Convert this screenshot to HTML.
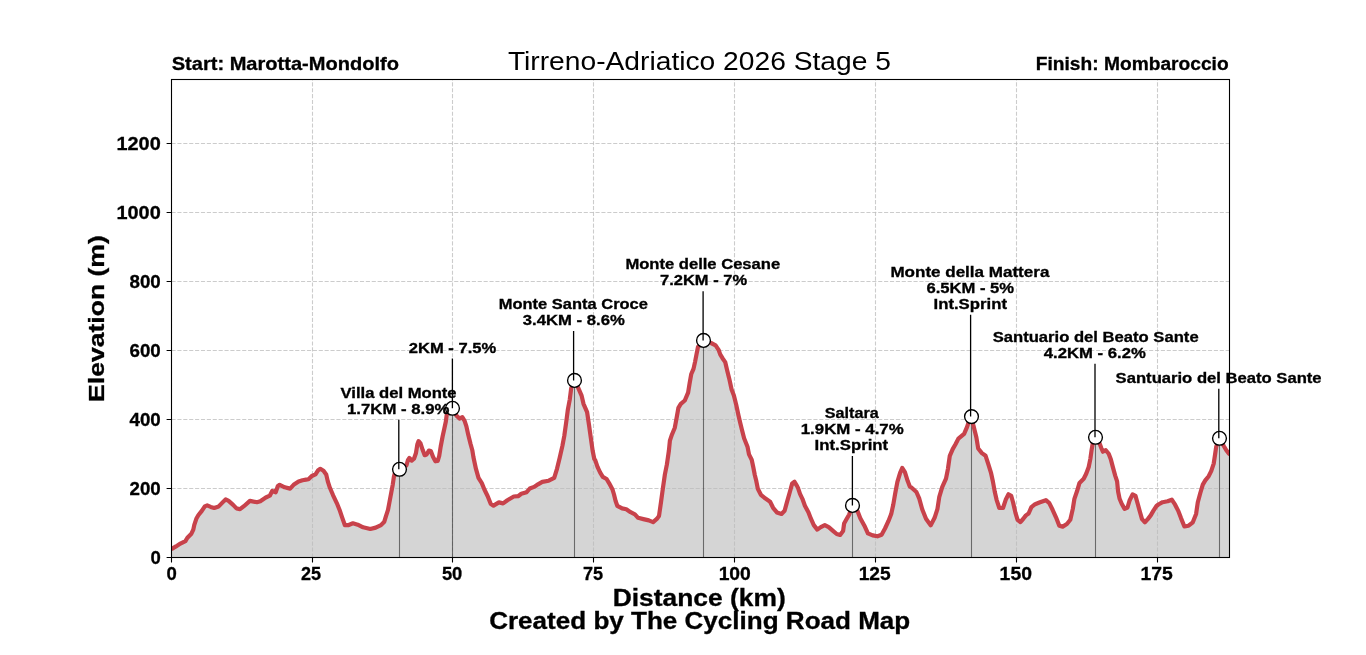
<!DOCTYPE html>
<html><head><meta charset="utf-8"><title>Tirreno-Adriatico 2026 Stage 5</title><style>html,body{margin:0;padding:0;background:#fff;overflow:hidden}svg{display:block;will-change:transform;font-family:"Liberation Sans",sans-serif}</style></head><body>
<svg width="1366" height="655" viewBox="0 0 1366 655">
<rect width="1366" height="655" fill="#fff"/>
<defs><clipPath id="ax"><rect x="171.5" y="79.5" width="1058" height="478"/></clipPath></defs>
<g clip-path="url(#ax)">
<polygon points="171.5,557.5 171.5,548.7 172.2,548.6 176,546.4 180.4,543.6 185.4,541.1 187.4,537.7 191.4,533.7 193.3,529.7 194.3,524.8 196.3,518.8 198.3,515.3 201.8,510.9 204.8,506.4 207.2,505.4 210.7,506.9 214.2,507.9 218.7,506.4 222.6,502.4 225.6,499.4 228.6,500.9 233.1,504.9 236.5,508.4 240,509.2 243.9,506.2 249.9,500.9 256.9,502.2 260.3,501.2 265.8,497.5 269.8,495.7 272.2,491 275.7,492.3 277.7,486.3 279.7,484.8 284.7,487.3 290.1,488.6 293.6,484.8 298.6,481.4 302.5,480.2 306,479.6 308.5,479.2 311.8,476 315.5,474.4 318.2,470.2 320.3,468.8 323.5,470.7 326.2,474.4 327.8,481.4 329.9,487.8 333.1,495.3 336.9,503.3 339.5,509.7 342.2,517.7 344.9,525.2 348.1,525.2 352.9,523.3 357.7,524.7 363.1,527.3 367.3,528.2 370.3,529 375.7,527.6 381,525.1 384.3,521.7 385.9,516.3 388,509.9 389.6,501.4 391.2,492.8 392.8,484.3 393.9,476.8 395,472.5 399.5,469.3 403,467 406.4,465.5 407.9,460.2 409.4,457.9 411.7,460.6 414,458.7 415.9,453.3 417.4,444.2 418.6,441.1 420.5,443.4 422.8,450.3 424.7,455.2 426.6,454.5 428.9,450.6 430.8,451 433.1,457.1 435.4,461.3 437.7,460.9 439.2,456 440.7,446.5 442.6,436.5 444.4,428.2 445.8,421.8 446.7,414.9 448.5,410 452.5,408 456.3,415.4 459.5,418.6 462.3,417.2 464.6,420.9 466.4,426.4 468.2,434.6 470.5,443.8 472.3,450.2 473.4,457 475.9,468.7 478.5,477.8 481.8,483.1 484.4,489.5 487.6,496 490.8,504 493.5,505.6 498.9,502.4 503.1,503.4 507.4,500.2 513.8,496.5 518.1,496.2 521.3,493.8 526.6,492.2 529.8,488.5 534.1,486.9 538,484.3 542.3,481.9 548.7,480.7 554.2,477.9 557,468.8 559.7,457.8 562.4,445.9 564.3,435.9 566.1,423 567.9,409.3 569.8,399.3 571.2,388.3 574.5,380.4 578,387.4 581.6,395.6 583.5,403.8 587.1,412.1 589,424.9 590.8,437.7 592.6,450.5 594.3,459 595.3,460.3 597.5,466.8 600.2,472.6 602.8,476.9 606.6,479 609.2,483.3 612.4,489.2 614,494.5 615.6,501 617.3,505.8 622.1,508.4 626.3,509.3 630.6,512.2 634.9,514.3 638.1,517.8 643.4,519.1 648.8,520.4 653.1,522.1 656.8,518.9 659,516 661,502.1 662.9,488.3 664.9,474.4 666.9,464.4 668.9,450.6 669.9,440.6 671.9,434.7 674.8,427.7 676.8,416.8 678.4,407.9 680.8,403.9 684.8,400.5 688.1,392.6 689.6,383.4 691.2,374.3 693.5,368.9 695,362.1 696.5,354.4 698,346.8 703.5,340.4 711,343 715.6,345.3 718.6,349.8 720.2,354.4 722.5,358.2 725.2,362.1 727,369.7 729.3,378.9 731.6,389.5 733.9,395.6 736.2,404.8 738.5,415.5 740.5,424 741.8,429.2 744.1,438.3 747.5,446.7 749,454.4 751.7,459.7 753.3,467.3 754.8,475 756.3,481.1 757.8,488.7 760.9,494.8 765.5,498.6 770.1,501.7 773.1,507.8 776.9,512.4 781.5,513.9 784.6,510.8 786.9,502.4 789.9,491.8 792.2,483.4 794.5,481.8 796.8,485.6 798,487.9 800,493.8 802.4,498.8 804.9,505.8 808.4,512.2 810.9,518.7 813.8,525.1 817.3,529.6 820.8,527.1 824.8,525.1 828.7,527.1 832.7,530.6 836.7,534 840.1,535 843.1,531 844.1,523.6 846.6,519.1 849.1,514.7 852.5,505.4 855.5,508.5 857.6,511.3 860.3,518.2 864.4,525.7 867.9,533.3 872.7,535.4 877.5,536.3 881.6,534.7 885,528.5 888.5,520.9 891.2,514.1 893.3,504.5 895.3,492.8 897.4,481.8 900.1,472.9 902.2,468 904.9,472.2 907.7,481.1 909.8,486.5 911.7,487.8 916.4,492 919.3,498.7 922.2,509.2 926,518.7 930.7,525.4 934.6,517.8 937.4,509.2 939.3,496.8 942.2,487.2 946,478.7 947.9,469.1 949.8,455.8 952.7,449.1 955.5,444.3 958.4,438.6 964.1,433.8 967,427.2 968.9,421.4 971.5,416.6 973.2,424.5 974.6,430.2 976.4,437.5 978.2,448.5 981.9,453.1 985.6,455.8 988.3,464.1 991.1,473.2 992.9,481.5 994.7,491.5 996.6,499.8 999.3,508 1003,508 1005.7,499.8 1008.5,494.3 1011.2,495.8 1013.1,502.5 1015.4,512.6 1017.6,519.9 1020.4,522.1 1023.1,519 1025.9,515.4 1028.6,513.5 1031.4,507.1 1035.1,504.2 1040,502.3 1045.9,500.2 1049.3,503.1 1052.6,509.8 1056,517.3 1059.3,525.7 1062.7,526.6 1066.9,524 1070.3,519.8 1072.8,508.9 1074.4,498.9 1077,491.3 1079.5,482.9 1083.7,478.7 1086.2,473.7 1088.7,467 1090.4,458.6 1091.7,449.3 1092.9,442.6 1095.5,437.3 1099.6,443.5 1101.5,448.5 1102.9,451.7 1105.8,450.2 1108.7,453.8 1110.9,459.6 1113,467.6 1115.2,475.6 1117.1,481.4 1118.1,491.5 1119.6,498.8 1121.7,503.8 1124.6,508.9 1127.5,507.5 1129.7,500.2 1132.6,494.4 1135.5,495.9 1137.7,503.8 1139.9,511.8 1142,519.1 1144.9,522.2 1147.8,519.1 1150.7,515.4 1153.6,510.4 1156.5,506 1158.4,504.5 1162.6,502.2 1167.6,501.3 1171.8,499.7 1175.1,504.7 1178.5,511.4 1181,518.1 1184.4,526.5 1188.6,525.7 1192.8,522.3 1196.1,513.9 1197.8,502.2 1200.3,493 1202.8,484.6 1205.3,480.4 1208.7,476.2 1211.2,471.1 1213.7,463.6 1215.1,454.4 1216.2,446.8 1219.5,438.3 1223.8,446 1226.3,450.2 1228.8,453.5 1231,455 1229.5,557.5" fill="#d5d5d5"/>
<path d="M171.5 557.5H1229.5M171.5 488.5H1229.5M171.5 419.5H1229.5M171.5 350.5H1229.5M171.5 281.5H1229.5M171.5 212.5H1229.5M171.5 143.5H1229.5" stroke="#bbb" stroke-opacity="0.75" stroke-width="1.1" stroke-dasharray="4.111 1.778" fill="none"/>
<path d="M171.5 557.5V79.5M312.5 557.5V79.5M452.5 557.5V79.5M593.5 557.5V79.5M734.5 557.5V79.5M875.5 557.5V79.5M1016.5 557.5V79.5M1157.5 557.5V79.5" stroke="#bbb" stroke-opacity="0.75" stroke-width="1.1" stroke-dasharray="4.111 1.778" fill="none"/>
<path d="M399.5 469.3V557.5M452.5 408.3V557.5M574.5 380.4V557.5M703.5 340.4V557.5M852.5 505.4V557.5M971.5 416.6V557.5M1095.5 437.3V557.5M1219.5 438.3V557.5" stroke="#000" stroke-opacity="0.5" stroke-width="1.1" fill="none"/>
<polyline points="171.5,548.7 172.2,548.6 176,546.4 180.4,543.6 185.4,541.1 187.4,537.7 191.4,533.7 193.3,529.7 194.3,524.8 196.3,518.8 198.3,515.3 201.8,510.9 204.8,506.4 207.2,505.4 210.7,506.9 214.2,507.9 218.7,506.4 222.6,502.4 225.6,499.4 228.6,500.9 233.1,504.9 236.5,508.4 240,509.2 243.9,506.2 249.9,500.9 256.9,502.2 260.3,501.2 265.8,497.5 269.8,495.7 272.2,491 275.7,492.3 277.7,486.3 279.7,484.8 284.7,487.3 290.1,488.6 293.6,484.8 298.6,481.4 302.5,480.2 306,479.6 308.5,479.2 311.8,476 315.5,474.4 318.2,470.2 320.3,468.8 323.5,470.7 326.2,474.4 327.8,481.4 329.9,487.8 333.1,495.3 336.9,503.3 339.5,509.7 342.2,517.7 344.9,525.2 348.1,525.2 352.9,523.3 357.7,524.7 363.1,527.3 367.3,528.2 370.3,529 375.7,527.6 381,525.1 384.3,521.7 385.9,516.3 388,509.9 389.6,501.4 391.2,492.8 392.8,484.3 393.9,476.8 395,472.5 399.5,469.3 403,467 406.4,465.5 407.9,460.2 409.4,457.9 411.7,460.6 414,458.7 415.9,453.3 417.4,444.2 418.6,441.1 420.5,443.4 422.8,450.3 424.7,455.2 426.6,454.5 428.9,450.6 430.8,451 433.1,457.1 435.4,461.3 437.7,460.9 439.2,456 440.7,446.5 442.6,436.5 444.4,428.2 445.8,421.8 446.7,414.9 448.5,410 452.5,408 456.3,415.4 459.5,418.6 462.3,417.2 464.6,420.9 466.4,426.4 468.2,434.6 470.5,443.8 472.3,450.2 473.4,457 475.9,468.7 478.5,477.8 481.8,483.1 484.4,489.5 487.6,496 490.8,504 493.5,505.6 498.9,502.4 503.1,503.4 507.4,500.2 513.8,496.5 518.1,496.2 521.3,493.8 526.6,492.2 529.8,488.5 534.1,486.9 538,484.3 542.3,481.9 548.7,480.7 554.2,477.9 557,468.8 559.7,457.8 562.4,445.9 564.3,435.9 566.1,423 567.9,409.3 569.8,399.3 571.2,388.3 574.5,380.4 578,387.4 581.6,395.6 583.5,403.8 587.1,412.1 589,424.9 590.8,437.7 592.6,450.5 594.3,459 595.3,460.3 597.5,466.8 600.2,472.6 602.8,476.9 606.6,479 609.2,483.3 612.4,489.2 614,494.5 615.6,501 617.3,505.8 622.1,508.4 626.3,509.3 630.6,512.2 634.9,514.3 638.1,517.8 643.4,519.1 648.8,520.4 653.1,522.1 656.8,518.9 659,516 661,502.1 662.9,488.3 664.9,474.4 666.9,464.4 668.9,450.6 669.9,440.6 671.9,434.7 674.8,427.7 676.8,416.8 678.4,407.9 680.8,403.9 684.8,400.5 688.1,392.6 689.6,383.4 691.2,374.3 693.5,368.9 695,362.1 696.5,354.4 698,346.8 703.5,340.4 711,343 715.6,345.3 718.6,349.8 720.2,354.4 722.5,358.2 725.2,362.1 727,369.7 729.3,378.9 731.6,389.5 733.9,395.6 736.2,404.8 738.5,415.5 740.5,424 741.8,429.2 744.1,438.3 747.5,446.7 749,454.4 751.7,459.7 753.3,467.3 754.8,475 756.3,481.1 757.8,488.7 760.9,494.8 765.5,498.6 770.1,501.7 773.1,507.8 776.9,512.4 781.5,513.9 784.6,510.8 786.9,502.4 789.9,491.8 792.2,483.4 794.5,481.8 796.8,485.6 798,487.9 800,493.8 802.4,498.8 804.9,505.8 808.4,512.2 810.9,518.7 813.8,525.1 817.3,529.6 820.8,527.1 824.8,525.1 828.7,527.1 832.7,530.6 836.7,534 840.1,535 843.1,531 844.1,523.6 846.6,519.1 849.1,514.7 852.5,505.4 855.5,508.5 857.6,511.3 860.3,518.2 864.4,525.7 867.9,533.3 872.7,535.4 877.5,536.3 881.6,534.7 885,528.5 888.5,520.9 891.2,514.1 893.3,504.5 895.3,492.8 897.4,481.8 900.1,472.9 902.2,468 904.9,472.2 907.7,481.1 909.8,486.5 911.7,487.8 916.4,492 919.3,498.7 922.2,509.2 926,518.7 930.7,525.4 934.6,517.8 937.4,509.2 939.3,496.8 942.2,487.2 946,478.7 947.9,469.1 949.8,455.8 952.7,449.1 955.5,444.3 958.4,438.6 964.1,433.8 967,427.2 968.9,421.4 971.5,416.6 973.2,424.5 974.6,430.2 976.4,437.5 978.2,448.5 981.9,453.1 985.6,455.8 988.3,464.1 991.1,473.2 992.9,481.5 994.7,491.5 996.6,499.8 999.3,508 1003,508 1005.7,499.8 1008.5,494.3 1011.2,495.8 1013.1,502.5 1015.4,512.6 1017.6,519.9 1020.4,522.1 1023.1,519 1025.9,515.4 1028.6,513.5 1031.4,507.1 1035.1,504.2 1040,502.3 1045.9,500.2 1049.3,503.1 1052.6,509.8 1056,517.3 1059.3,525.7 1062.7,526.6 1066.9,524 1070.3,519.8 1072.8,508.9 1074.4,498.9 1077,491.3 1079.5,482.9 1083.7,478.7 1086.2,473.7 1088.7,467 1090.4,458.6 1091.7,449.3 1092.9,442.6 1095.5,437.3 1099.6,443.5 1101.5,448.5 1102.9,451.7 1105.8,450.2 1108.7,453.8 1110.9,459.6 1113,467.6 1115.2,475.6 1117.1,481.4 1118.1,491.5 1119.6,498.8 1121.7,503.8 1124.6,508.9 1127.5,507.5 1129.7,500.2 1132.6,494.4 1135.5,495.9 1137.7,503.8 1139.9,511.8 1142,519.1 1144.9,522.2 1147.8,519.1 1150.7,515.4 1153.6,510.4 1156.5,506 1158.4,504.5 1162.6,502.2 1167.6,501.3 1171.8,499.7 1175.1,504.7 1178.5,511.4 1181,518.1 1184.4,526.5 1188.6,525.7 1192.8,522.3 1196.1,513.9 1197.8,502.2 1200.3,493 1202.8,484.6 1205.3,480.4 1208.7,476.2 1211.2,471.1 1213.7,463.6 1215.1,454.4 1216.2,446.8 1219.5,438.3 1223.8,446 1226.3,450.2 1228.8,453.5 1231,455" fill="none" stroke="#c8424b" stroke-width="4.2" stroke-linejoin="round" stroke-linecap="butt"/>
</g>
<circle cx="399.5" cy="469.3" r="6.9" fill="#fff" stroke="#000" stroke-width="1.35"/>
<circle cx="452.5" cy="408.3" r="6.9" fill="#fff" stroke="#000" stroke-width="1.35"/>
<circle cx="574.5" cy="380.4" r="6.9" fill="#fff" stroke="#000" stroke-width="1.35"/>
<circle cx="703.5" cy="340.4" r="6.9" fill="#fff" stroke="#000" stroke-width="1.35"/>
<circle cx="852.5" cy="505.4" r="6.9" fill="#fff" stroke="#000" stroke-width="1.35"/>
<circle cx="971.5" cy="416.6" r="6.9" fill="#fff" stroke="#000" stroke-width="1.35"/>
<circle cx="1095.5" cy="437.3" r="6.9" fill="#fff" stroke="#000" stroke-width="1.35"/>
<circle cx="1219.5" cy="438.3" r="6.9" fill="#fff" stroke="#000" stroke-width="1.35"/>
<path d="M398.8 419.8V469.3M452.4 358.5V408.3M573.6 330.9V380.4M703.1 291.3V340.4M852.4 456V505.4M970.6 314.7V416.6M1095 363.7V437.3M1218.8 388.7V438.3" stroke="#000" stroke-width="1.3" fill="none"/>
<g font-family="Liberation Sans" fill="#000"><text transform="translate(171.7 69.7) scale(1.1157 1)" font-size="18" font-weight="bold" stroke="#000" stroke-width="0.3">Start: Marotta-Mondolfo</text><text transform="translate(507.9 69.9) scale(1.1108 1)" font-size="25.4" font-weight="normal">Tirreno-Adriatico 2026 Stage 5</text><text transform="translate(1035.73 70.3) scale(1.0667 1)" font-size="18" font-weight="bold" stroke="#000" stroke-width="0.3">Finish: Mombaroccio</text><text transform="translate(612.66 605.8) scale(1.1427 1)" font-size="23.1" font-weight="bold" stroke="#000" stroke-width="0.3">Distance (km)</text><text transform="translate(489.17 628.9) scale(1.1280 1)" font-size="23.1" font-weight="bold" stroke="#000" stroke-width="0.3">Created by The Cycling Road Map</text><text transform="translate(408.8 352.8) scale(1.1757 1)" font-size="14.1" font-weight="bold" stroke="#000" stroke-width="0.3">2KM - 7.5%</text><text transform="translate(340.5 397.6) scale(1.1806 1)" font-size="14.1" font-weight="bold" stroke="#000" stroke-width="0.3">Villa del Monte</text><text transform="translate(347.01 413.8) scale(1.1894 1)" font-size="14.1" font-weight="bold" stroke="#000" stroke-width="0.3">1.7KM - 8.9%</text><text transform="translate(498.73 308.8) scale(1.1690 1)" font-size="14.1" font-weight="bold" stroke="#000" stroke-width="0.3">Monte Santa Croce</text><text transform="translate(522.8 324.8) scale(1.1837 1)" font-size="14.1" font-weight="bold" stroke="#000" stroke-width="0.3">3.4KM - 8.6%</text><text transform="translate(625.42 268.9) scale(1.1769 1)" font-size="14.1" font-weight="bold" stroke="#000" stroke-width="0.3">Monte delle Cesane</text><text transform="translate(660 284.8) scale(1.1716 1)" font-size="14.1" font-weight="bold" stroke="#000" stroke-width="0.3">7.2KM - 7%</text><text transform="translate(824.8 417.7) scale(1.1458 1)" font-size="14.1" font-weight="bold" stroke="#000" stroke-width="0.3">Saltara</text><text transform="translate(800.7 433.9) scale(1.1965 1)" font-size="14.1" font-weight="bold" stroke="#000" stroke-width="0.3">1.9KM - 4.7%</text><text transform="translate(814.51 449.6) scale(1.1918 1)" font-size="14.1" font-weight="bold" stroke="#000" stroke-width="0.3">Int.Sprint</text><text transform="translate(890.39 276.8) scale(1.2092 1)" font-size="14.1" font-weight="bold" stroke="#000" stroke-width="0.3">Monte della Mattera</text><text transform="translate(926.4 292.9) scale(1.1797 1)" font-size="14.1" font-weight="bold" stroke="#000" stroke-width="0.3">6.5KM - 5%</text><text transform="translate(933.51 308.7) scale(1.1885 1)" font-size="14.1" font-weight="bold" stroke="#000" stroke-width="0.3">Int.Sprint</text><text transform="translate(992.7 341.9) scale(1.1793 1)" font-size="14.1" font-weight="bold" stroke="#000" stroke-width="0.3">Santuario del Beato Sante</text><text transform="translate(1043.8 358) scale(1.1849 1)" font-size="14.1" font-weight="bold" stroke="#000" stroke-width="0.3">4.2KM - 6.2%</text><text transform="translate(1115.6 383) scale(1.1805 1)" font-size="14.1" font-weight="bold" stroke="#000" stroke-width="0.3">Santuario del Beato Sante</text><text transform="translate(150.4 564) scale(1.0300 1)" font-size="18" font-weight="bold" stroke="#000" stroke-width="0.3">0</text><text transform="translate(129.5 495) scale(1.0400 1)" font-size="18" font-weight="bold" stroke="#000" stroke-width="0.3">200</text><text transform="translate(129.5 426) scale(1.0400 1)" font-size="18" font-weight="bold" stroke="#000" stroke-width="0.3">400</text><text transform="translate(129.5 357) scale(1.0400 1)" font-size="18" font-weight="bold" stroke="#000" stroke-width="0.3">600</text><text transform="translate(129.5 288) scale(1.0400 1)" font-size="18" font-weight="bold" stroke="#000" stroke-width="0.3">800</text><text transform="translate(116.49 219) scale(1.1051 1)" font-size="18" font-weight="bold" stroke="#000" stroke-width="0.3">1000</text><text transform="translate(116.49 150) scale(1.1051 1)" font-size="18" font-weight="bold" stroke="#000" stroke-width="0.3">1200</text><text transform="translate(166.4 580) scale(1.0300 1)" font-size="18" font-weight="bold" stroke="#000" stroke-width="0.3">0</text><text transform="translate(301 580) scale(1.0000 1)" font-size="18" font-weight="bold" stroke="#000" stroke-width="0.3">25</text><text transform="translate(441.9 580) scale(1.0200 1)" font-size="18" font-weight="bold" stroke="#000" stroke-width="0.3">50</text><text transform="translate(582.9 580) scale(1.0050 1)" font-size="18" font-weight="bold" stroke="#000" stroke-width="0.3">75</text><text transform="translate(718.63 580) scale(1.0724 1)" font-size="18" font-weight="bold" stroke="#000" stroke-width="0.3">100</text><text transform="translate(858.63 580) scale(1.0655 1)" font-size="18" font-weight="bold" stroke="#000" stroke-width="0.3">125</text><text transform="translate(999.62 580) scale(1.0759 1)" font-size="18" font-weight="bold" stroke="#000" stroke-width="0.3">150</text><text transform="translate(1140.53 580) scale(1.0724 1)" font-size="18" font-weight="bold" stroke="#000" stroke-width="0.3">175</text><text transform="translate(104 401.88) rotate(-90) scale(1.1750 1)" font-size="22.6" font-weight="bold" stroke="#000" stroke-width="0.3">Elevation (m)</text></g>
<path d="M166.6 557.5H171.5M166.6 488.5H171.5M166.6 419.5H171.5M166.6 350.5H171.5M166.6 281.5H171.5M166.6 212.5H171.5M166.6 143.5H171.5M171.5 557.5V562.4M312.5 557.5V562.4M452.5 557.5V562.4M593.5 557.5V562.4M734.5 557.5V562.4M875.5 557.5V562.4M1016.5 557.5V562.4M1157.5 557.5V562.4" stroke="#000" stroke-width="1.1" fill="none"/>
<rect x="171.5" y="79.5" width="1058" height="478" fill="none" stroke="#000" stroke-width="1.1"/>
</svg>
</body></html>
